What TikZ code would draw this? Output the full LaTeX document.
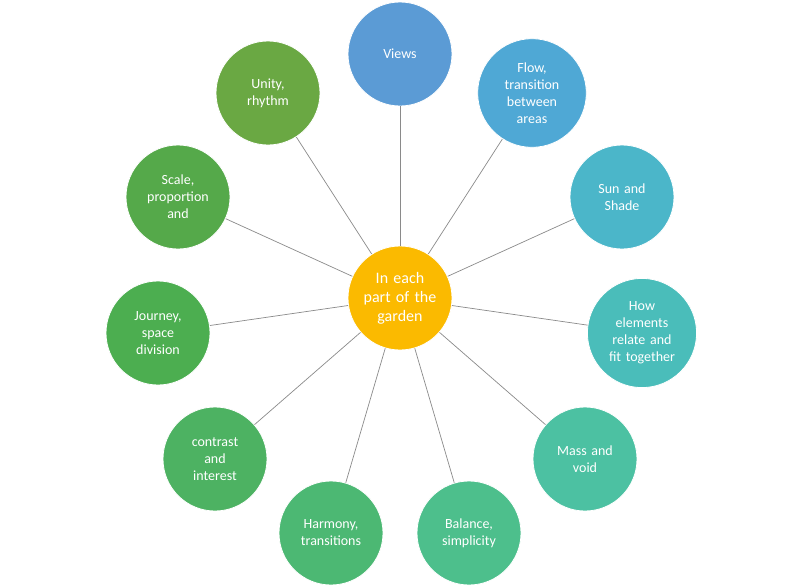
\documentclass[tikz,border=0pt]{standalone}
\usepackage{fontspec}
\setmainfont{Carlito}
\definecolor{cviews}{HTML}{5B9BD5}
\definecolor{cflow}{HTML}{4FA8D5}
\definecolor{csun}{HTML}{4BB6C9}
\definecolor{chow}{HTML}{4ABDBA}
\definecolor{cmass}{HTML}{4CC1A2}
\definecolor{cbal}{HTML}{4DBF8C}
\definecolor{charm}{HTML}{4CB873}
\definecolor{ccon}{HTML}{4DB262}
\definecolor{cjou}{HTML}{4CAE50}
\definecolor{cscale}{HTML}{55A94A}
\definecolor{cunity}{HTML}{6AA843}
\definecolor{ccenter}{HTML}{FBBA00}
\definecolor{clink}{HTML}{8A8A8A}
\begin{document}
\begin{tikzpicture}[x=1pt,y=-1pt,
  bubble/.style={circle,minimum size=104pt,inner sep=0pt,draw=white,line width=0.8pt,
    text=white,align=center,font=\fontsize{14}{17}\selectfont,text width=90pt},
  hub/.style={bubble,font=\fontsize{16}{19}\selectfont},
  link/.style={draw=clink,line width=0.7pt}]
\useasboundingbox (0,0) rectangle (800,587);
\fill[white] (0,0) rectangle (800,587);
\node[hub,fill=ccenter] (c) at (400,298) {In each\\part of the\\garden};
\node[bubble,fill=cviews] (views) at (400,54) {Views};
\node[bubble,fill=cflow] (flow) at (532,93) {Flow,\\transition\\between\\areas};
\node[bubble,fill=csun] (sun) at (622,197) {Sun and\\Shade};
\node[bubble,fill=chow] (how) at (642,333) {How\\elements\\relate and\\fit together};
\node[bubble,fill=cmass] (mass) at (585,459) {Mass and\\void};
\node[bubble,fill=cbal] (bal) at (469,533) {Balance,\\simplicity};
\node[bubble,fill=charm] (harm) at (331,533) {Harmony,\\transitions};
\node[bubble,fill=ccon] (con) at (215,459) {contrast\\and\\interest};
\node[bubble,fill=cjou] (jou) at (158,333) {Journey,\\space\\division};
\node[bubble,fill=cscale] (scale) at (178,197) {Scale,\\proportion\\and};
\node[bubble,fill=cunity] (unity) at (268,93) {Unity,\\rhythm};
\foreach \n in {views,flow,sun,how,mass,bal,harm,con,jou,scale,unity}
  \draw[link] (c) -- (\n);
\end{tikzpicture}
\end{document}
